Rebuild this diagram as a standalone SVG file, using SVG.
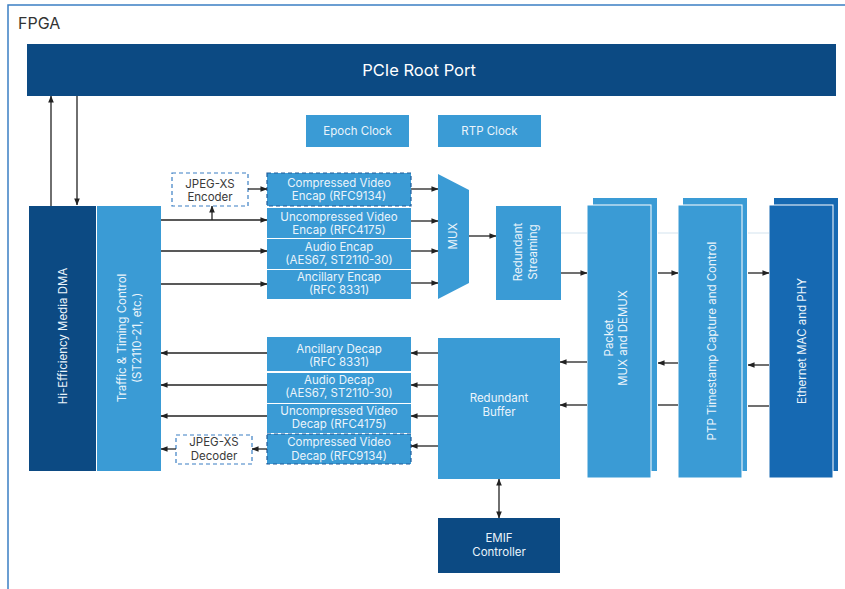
<svg xmlns="http://www.w3.org/2000/svg" width="845" height="589" viewBox="0 0 845 589">
<defs>
<marker id="ah" viewBox="0 0 8 8" refX="7.5" refY="4" markerWidth="7" markerHeight="7" markerUnits="userSpaceOnUse" orient="auto-start-reverse">
<path d="M0,0.8 L8,4 L0,7.2 Z" fill="#222"/>
</marker>
<style>
text{font-family:Inter,"Liberation Sans","Noto Sans",sans-serif;}
.dk{fill:#0c4a83;}
.md{fill:#3a9bd5;}
.eth{fill:#1669b2;}
.wt{fill:#eaf4fb;font-size:11.5px;text-anchor:middle;dominant-baseline:central;}
.gt{fill:#3a3a3a;font-size:11.5px;text-anchor:middle;dominant-baseline:central;}
.vt{fill:#eaf4fb;font-size:11.5px;text-anchor:middle;dominant-baseline:central;}
.ln{stroke:#222;stroke-width:1.3;fill:none;}
.ar{stroke:#222;stroke-width:1.3;fill:none;marker-end:url(#ah);}
.ar2{stroke:#222;stroke-width:1.3;fill:none;marker-end:url(#ah);marker-start:url(#ah);}
.gl{stroke:#d3e3ee;stroke-width:1;}
.dash{fill:#fff;stroke:#3a7fc4;stroke-width:1.2;stroke-dasharray:4,3;}
.dashm{fill:#3a9bd5;stroke:#1f5c9a;stroke-width:1.2;stroke-dasharray:4,3;}
.front{stroke:#fff;stroke-width:1;}
</style>
</defs>
<rect width="845" height="589" fill="#fff"/>
<g id="frame">
<rect x="8" y="5" width="860" height="600" fill="none" stroke="#3b7fc3" stroke-width="1.5"/>
<text x="18" y="29" font-size="16" fill="#333">FPGA</text>
</g>
<g id="pcie">
<rect x="27" y="44" width="809" height="52" class="dk"/>
<text x="419" y="70" font-size="16.5" fill="#fff" text-anchor="middle" dominant-baseline="central">PCIe Root Port</text>
</g>
<g id="epoch">
<rect x="306" y="115" width="103" height="32" class="md"/>
<text x="357.5" y="131" class="wt">Epoch Clock</text>
</g>
<g id="rtp">
<rect x="438" y="115" width="103" height="32" class="md"/>
<text x="489.5" y="131" class="wt">RTP Clock</text>
</g>
<g id="dma">
<rect x="29" y="206" width="67" height="265" class="dk"/>
<text class="vt" transform="translate(63,336) rotate(-90)">Hi-Efficiency Media DMA</text>
</g>
<g id="traffic">
<rect x="97" y="206" width="64" height="265" class="md"/>
<text class="vt" transform="translate(122,338) rotate(-90)">Traffic &amp; Timing Control</text>
<text class="vt" transform="translate(137,338) rotate(-90)">(ST2110-21, etc.)</text>
</g>
<g id="jpeg-enc">
<rect x="172" y="173" width="76" height="33" class="dash"/>
<text x="210" y="184" class="gt">JPEG-XS</text>
<text x="210" y="197" class="gt">Encoder</text>
</g>
<g id="enc-comp">
<rect x="267" y="173" width="144" height="33" class="dashm"/>
<text x="339" y="183" class="wt">Compressed Video</text>
<text x="339" y="196" class="wt">Encap (RFC9134)</text>
</g>
<g id="enc-uncomp">
<rect x="267" y="208" width="144" height="30" class="md"/>
<text x="339" y="217" class="wt">Uncompressed Video</text>
<text x="339" y="230" class="wt">Encap (RFC4175)</text>
</g>
<g id="enc-audio">
<rect x="267" y="239" width="144" height="30" class="md"/>
<text x="339" y="247" class="wt">Audio Encap</text>
<text x="339" y="260" class="wt">(AES67, ST2110-30)</text>
</g>
<g id="enc-anc">
<rect x="267" y="270" width="144" height="29" class="md"/>
<text x="339" y="277" class="wt">Ancillary Encap</text>
<text x="339" y="290" class="wt">(RFC 8331)</text>
</g>
<g id="mux">
<polygon points="438,174 469,190 469,283 438,299" class="md"/>
<text class="vt" transform="translate(453,236) rotate(-90)">MUX</text>
</g>
<g id="red-stream">
<rect x="496" y="206" width="65" height="94" class="md"/>
<text class="vt" transform="translate(518,252) rotate(-90)">Redundant</text>
<text class="vt" transform="translate(533,252) rotate(-90)">Streaming</text>
</g>
<g id="packet">
<rect x="593" y="198" width="64" height="273" class="md"/>
<rect x="587" y="205" width="64" height="273" class="md front"/>
<text class="vt" transform="translate(609,338) rotate(-90)">Packet</text>
<text class="vt" transform="translate(623,338) rotate(-90)">MUX and DEMUX</text>
</g>
<g id="ptp">
<rect x="683" y="198" width="64" height="273" class="md"/>
<rect x="678" y="205" width="64" height="273" class="md front"/>
<text class="vt" transform="translate(712,341) rotate(-90)">PTP Timestamp Capture and Control</text>
</g>
<g id="ethernet">
<rect x="774" y="198" width="64" height="273" class="eth"/>
<rect x="769" y="205" width="64" height="273" class="eth front"/>
<text class="vt" transform="translate(802,341) rotate(-90)">Ethernet MAC and PHY</text>
</g>
<g id="dec-anc">
<rect x="267" y="337" width="144" height="34" class="md"/>
<text x="339" y="349" class="wt">Ancillary Decap</text>
<text x="339" y="362" class="wt">(RFC 8331)</text>
</g>
<g id="dec-audio">
<rect x="267" y="373" width="144" height="30" class="md"/>
<text x="339" y="380" class="wt">Audio Decap</text>
<text x="339" y="393" class="wt">(AES67, ST2110-30)</text>
</g>
<g id="dec-uncomp">
<rect x="267" y="404" width="144" height="29" class="md"/>
<text x="339" y="411" class="wt">Uncompressed Video</text>
<text x="339" y="424" class="wt">Decap (RFC4175)</text>
</g>
<g id="dec-comp">
<rect x="267" y="434" width="144" height="30" class="dashm"/>
<text x="339" y="442" class="wt">Compressed Video</text>
<text x="339" y="456" class="wt">Decap (RFC9134)</text>
</g>
<g id="jpeg-dec">
<rect x="176" y="435" width="76" height="29" class="dash"/>
<text x="214" y="442" class="gt">JPEG-XS</text>
<text x="214" y="456" class="gt">Decoder</text>
</g>
<g id="red-buffer">
<rect x="438" y="338" width="122" height="141" class="md"/>
<text x="499" y="398" class="wt">Redundant</text>
<text x="499" y="412" class="wt">Buffer</text>
</g>
<g id="emif">
<rect x="438" y="518" width="122" height="55" class="dk"/>
<text x="499" y="538" class="wt">EMIF</text>
<text x="499" y="552" class="wt">Controller</text>
</g>
<g id="connectors">
<line x1="51" y1="206" x2="51" y2="96" class="ar" stroke="#555"/>
<line x1="77" y1="96" x2="77" y2="205" class="ar"/>
<line x1="161" y1="220" x2="267" y2="220" class="ar"/>
<line x1="212" y1="220" x2="212" y2="206" class="ar"/>
<line x1="161" y1="251" x2="267" y2="251" class="ar"/>
<line x1="161" y1="284" x2="267" y2="284" class="ar"/>
<line x1="248" y1="189" x2="267" y2="189" class="ar"/>
<line x1="411" y1="189" x2="438" y2="189" class="ar"/>
<line x1="411" y1="221" x2="438" y2="221" class="ar"/>
<line x1="411" y1="251" x2="438" y2="251" class="ar"/>
<line x1="411" y1="283" x2="438" y2="283" class="ar"/>
<line x1="469" y1="236" x2="496" y2="236" class="ar"/>
<line x1="561" y1="233" x2="587" y2="233" class="gl"/>
<line x1="658" y1="233" x2="678" y2="233" class="gl"/>
<line x1="748" y1="233" x2="769" y2="233" class="gl"/>
<line x1="561" y1="273" x2="587" y2="273" class="ar"/>
<line x1="658" y1="273" x2="678" y2="273" class="ar"/>
<line x1="748" y1="273" x2="769" y2="273" class="ar"/>
<line x1="769" y1="365" x2="748" y2="365" class="ar"/>
<line x1="678" y1="363" x2="658" y2="363" class="ar"/>
<line x1="587" y1="362" x2="560" y2="362" class="ar"/>
<line x1="769" y1="406" x2="748" y2="406" class="ln"/>
<line x1="678" y1="405" x2="658" y2="405" class="ln" stroke="#555"/>
<line x1="587" y1="405" x2="560" y2="405" class="ar"/>
<line x1="438" y1="353" x2="411" y2="353" class="ar"/>
<line x1="438" y1="385" x2="411" y2="385" class="ar"/>
<line x1="438" y1="416" x2="411" y2="416" class="ar"/>
<line x1="438" y1="446" x2="411" y2="446" class="ar"/>
<line x1="267" y1="353" x2="161" y2="353" class="ar"/>
<line x1="267" y1="385" x2="161" y2="385" class="ar"/>
<line x1="267" y1="416" x2="161" y2="416" class="ar"/>
<line x1="267" y1="449" x2="252" y2="449" class="ar"/>
<line x1="176" y1="449" x2="161" y2="449" class="ar"/>
<line x1="499" y1="479" x2="499" y2="518" class="ar2"/>
</g>
</svg>
